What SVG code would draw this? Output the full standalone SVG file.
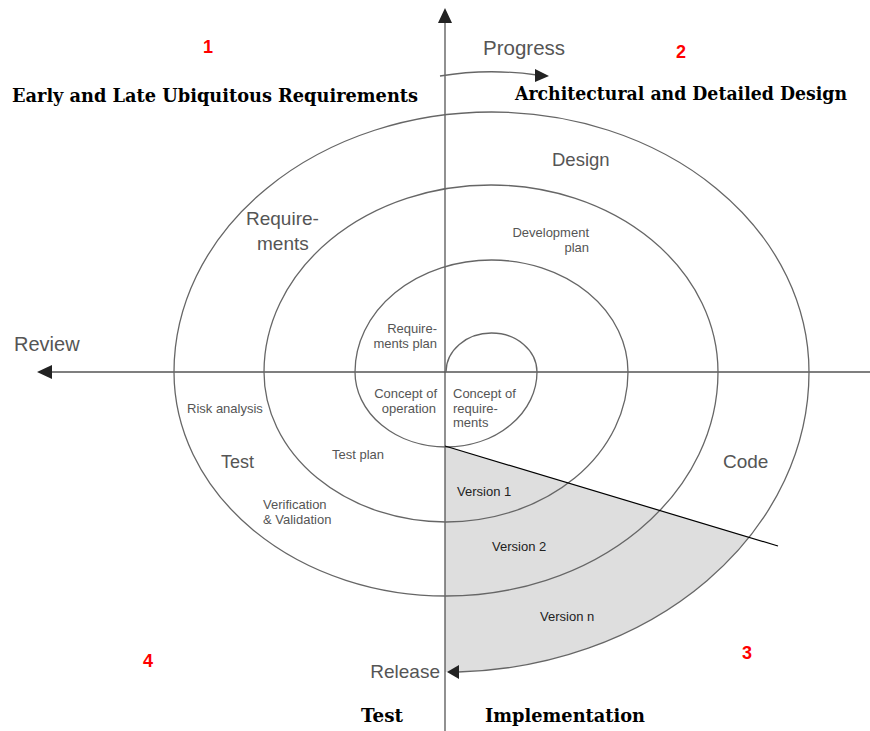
<svg xmlns="http://www.w3.org/2000/svg" width="870" height="731" viewBox="0 0 870 731">
<style>
.ln{fill:none;stroke:#666;stroke-width:1.3}
.ax{fill:none;stroke:#555;stroke-width:1.3}
.ah{fill:#222;stroke:none}
.g{font-family:"Liberation Sans",Arial,sans-serif;fill:#555}
.v{font-family:"Liberation Sans",Arial,sans-serif;fill:#222;font-size:13px}
.s{font-size:13px}
.t{font-family:"DejaVu Serif","Liberation Serif",serif;font-weight:bold;fill:#000}
.n{font-family:"Liberation Sans",Arial,sans-serif;font-weight:bold;fill:#f00;font-size:18px;text-anchor:middle}
</style>
<rect width="870" height="731" fill="#fff"/>
<g id="release-zone">
<path d="M445,446 L749,537 A363,300 0 0,1 446,672 L445,672 Z" fill="#dedede"/>
</g>
<g id="connectors">
<line class="ax" x1="445" y1="20" x2="445" y2="731"/>
<polygon class="ah" points="445,8 438,23 452,23"/>
<line class="ax" x1="50" y1="372" x2="870" y2="372"/>
<polygon class="ah" points="37,372 52,365 52,379"/>
<path class="ln" d="M446,372 A45.5,39 0 0,1 537,372 A91,75 0 0,1 355,372 A136.5,112 0 0,1 628,372 A182,150 0 0,1 264,372 A227,187 0 0,1 718,372 A272,224 0 0,1 174,372 A317.5,260 0 0,1 809,372 A363,300 0 0,1 458,672"/>
<polygon class="ah" points="447,672 459,665 459,679"/>
<line x1="445" y1="446" x2="778" y2="546" stroke="#000" stroke-width="1.2"/>
<path class="ln" d="M440,76 Q488,68 537,75"/>
<polygon class="ah" points="549,76 535,69 535,82"/>
</g>
<g id="progress"><text class="g" x="483" y="55" font-size="20.5">Progress</text></g>
<g id="review"><text class="g" x="14" y="351" font-size="20">Review</text></g>
<g id="release"><text class="g" x="440" y="678" font-size="19" text-anchor="end">Release</text></g>
<g id="design"><text class="g" x="552" y="166" font-size="18.5">Design</text></g>
<g id="development-plan"><text class="g s" x="589" y="237" text-anchor="end">Development</text><text class="g s" x="589" y="252" text-anchor="end">plan</text></g>
<g id="requirements"><text class="g" x="246" y="225" font-size="19">Require-</text><text class="g" x="257" y="250" font-size="19">ments</text></g>
<g id="requirements-plan"><text class="g s" x="437" y="333" text-anchor="end">Require-</text><text class="g s" x="437" y="348" text-anchor="end">ments plan</text></g>
<g id="concept-of-operation"><text class="g s" x="437" y="398" text-anchor="end">Concept of</text><text class="g s" x="436" y="413" text-anchor="end">operation</text></g>
<g id="concept-of-requirements"><text class="g s" x="453" y="398">Concept of</text><text class="g s" x="453" y="413">require-</text><text class="g s" x="453" y="427">ments</text></g>
<g id="risk-analysis"><text class="g s" x="187" y="413">Risk analysis</text></g>
<g id="test-gray"><text class="g" x="221" y="468" font-size="18">Test</text></g>
<g id="test-plan"><text class="g s" x="332" y="459">Test plan</text></g>
<g id="verification"><text class="g s" x="263" y="509">Verification</text><text class="g s" x="263" y="524">&amp; Validation</text></g>
<g id="code"><text class="g" x="723" y="468" font-size="19">Code</text></g>
<g id="version-1"><text class="v" x="457" y="496">Version 1</text></g>
<g id="version-2"><text class="v" x="492" y="551">Version 2</text></g>
<g id="version-n"><text class="v" x="540" y="621">Version n</text></g>
<g id="q1"><text class="n" x="208" y="53">1</text><text class="t" x="12" y="102" font-size="18" textLength="406" lengthAdjust="spacingAndGlyphs">Early and Late Ubiquitous Requirements</text></g>
<g id="q2"><text class="n" x="681" y="58">2</text><text class="t" x="515" y="100" font-size="18" textLength="332" lengthAdjust="spacingAndGlyphs">Architectural and Detailed Design</text></g>
<g id="q3"><text class="n" x="747" y="659">3</text><text class="t" x="485" y="722" font-size="18" textLength="160" lengthAdjust="spacingAndGlyphs">Implementation</text></g>
<g id="q4"><text class="n" x="148" y="667">4</text><text class="t" x="361" y="722" font-size="18" textLength="42" lengthAdjust="spacingAndGlyphs">Test</text></g>
</svg>
